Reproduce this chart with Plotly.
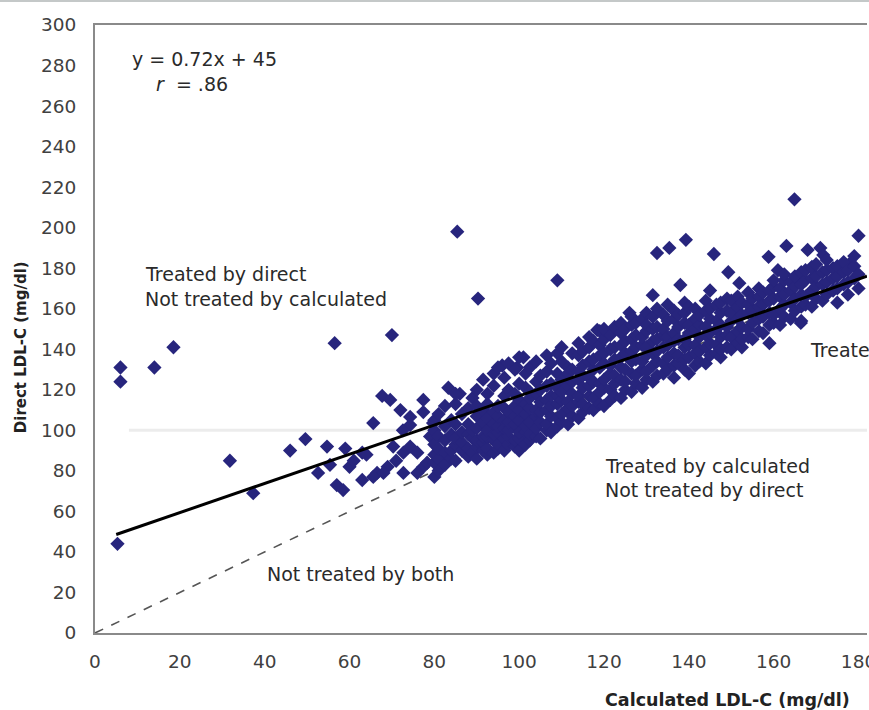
import plotly.graph_objects as go

# ---- data ----
slope = 0.72
intercept = 45
fit_x = [5, 182]
identity_x = [0, 180]
threshold_y = 100

left_x = [6, 6, 14, 18.5, 5.3, 31.8, 37.3, 46, 49.6, 52.6, 54.7, 55.4, 57, 58.5, 59, 60,
          63, 63, 65.6, 56.5, 70, 67.7, 69.6, 72, 77.4, 77.4, 83.3, 86, 74.3, 66.5, 69,
          71, 72.7, 70.3, 74.3, 76, 77.4, 76, 79, 72.6, 74.3, 79.7, 68, 65.6, 72.7, 78.3,
          64, 61]
left_y = [131, 124, 131, 141, 44, 85, 69, 90, 95.7, 79, 92, 83, 73, 70.5, 91, 82,
          75.5, 89, 103.6, 143, 147, 117, 115, 110, 115, 109, 121, 118, 102.6, 79, 82,
          85, 89, 92, 92, 89, 82, 79, 97, 100, 106.6, 103.6, 79, 77, 79, 84,
          88, 85]

outlier_x = [85.4, 90.3, 109, 132.5, 135.4, 139.3, 145.9, 149.3, 151.9, 131.5, 126, 138,
             145, 164.9, 158.8, 163, 168, 171, 171.7, 180, 161, 169, 165.8, 178, 166.4,
             118.4, 96, 99.5, 101]
outlier_y = [198, 165, 174, 187.5, 190, 194, 187, 178, 172.6, 166.7, 158, 171.7,
             169, 214, 185.6, 191, 189, 190, 186.5, 196, 179, 180.7, 176, 182.5, 153,
             149.5, 132, 131, 136]

band_x = [80, 81, 82.5, 84, 85, 86.5, 88, 89, 90, 91.5, 92.5, 94, 95, 96.5, 97.5, 99,
          100, 101.5, 102.5, 104, 105, 106.5, 107.5, 109, 110, 111.5, 112.5, 114, 115,
          116.5, 117.5, 119, 120, 121.5, 122.5, 124, 125, 126.5, 127.5, 129, 130, 131.5,
          132.5, 134, 135, 136.5, 137.5, 139, 140, 141.5, 142.5, 144, 145, 146.5, 147.5,
          149, 150, 151.5, 152.5, 154, 155, 156.5, 157.5, 159, 160, 161.5, 162.5, 164,
          165, 166.5, 167.5, 169, 170, 171.5, 172.5, 174, 175, 176.5, 177.5, 179, 180]
band_y = [
    [77, 84, 88, 93, 100, 105],
    [80, 86, 91, 97, 108],
    [83, 89, 95, 102, 112],
    [86, 90, 98, 105],
    [85, 93, 96, 103, 113, 118],
    [90, 94, 99, 108],
    [87, 91, 98, 103, 111],
    [89, 96, 100, 116],
    [86, 92, 95, 101, 107, 112, 120],
    [90, 94, 97, 104, 110, 125],
    [88, 91, 97, 100, 106, 113, 118],
    [89, 95, 98, 103, 109, 122, 128],
    [91, 93, 99, 102, 107, 112, 131],
    [90, 96, 101, 105, 111, 117, 126],
    [93, 97, 100, 104, 109, 120, 133],
    [92, 95, 103, 107, 112, 118, 130],
    [90, 96, 99, 105, 110, 115, 123, 136],
    [93, 99, 102, 108, 113, 121, 128],
    [95, 98, 104, 111, 116, 119, 131],
    [97, 101, 107, 110, 118, 124, 134],
    [96, 104, 109, 114, 120, 127],
    [100, 103, 110, 115, 122, 129, 137],
    [99, 107, 112, 117, 123, 133],
    [102, 106, 113, 117, 121, 128, 138],
    [104, 108, 115, 119, 125, 134, 141],
    [103, 111, 114, 122, 128, 131],
    [107, 112, 118, 124, 130, 138],
    [106, 114, 117, 125, 129, 137, 143],
    [109, 113, 121, 127, 132, 139],
    [111, 117, 122, 126, 134, 141, 146],
    [110, 116, 124, 130, 135, 144],
    [113, 119, 123, 131, 137, 142, 149],
    [112, 121, 125, 133, 138, 145, 150],
    [115, 120, 128, 132, 140, 147],
    [117, 123, 127, 135, 141, 151],
    [116, 125, 131, 136, 142, 148, 153],
    [120, 124, 130, 138, 144, 150],
    [119, 128, 134, 139, 145, 152, 156],
    [123, 127, 135, 141, 147, 153],
    [121, 130, 134, 142, 146, 155],
    [125, 129, 137, 141, 149, 152, 158],
    [124, 132, 138, 144, 150, 156],
    [127, 134, 139, 145, 151, 160],
    [128, 133, 141, 147, 150, 157],
    [130, 136, 142, 146, 154, 162],
    [126, 132, 138, 144, 148, 155, 159],
    [133, 137, 145, 151, 157],
    [130, 135, 141, 145, 153, 158, 163],
    [128, 136, 142, 148, 152, 161],
    [132, 138, 142, 150, 155, 160],
    [134, 139, 146, 152, 157],
    [133, 141, 147, 151, 159, 164],
    [137, 143, 148, 155, 160],
    [138, 142, 150, 154, 162],
    [136, 140, 146, 152, 158, 163],
    [141, 147, 151, 159, 165],
    [140, 146, 154, 158, 164],
    [143, 149, 155, 161, 166],
    [141, 145, 151, 157, 163],
    [146, 150, 158, 162, 168],
    [145, 153, 159, 165],
    [149, 155, 161, 166, 170],
    [148, 156, 162, 168],
    [143, 152, 158, 164, 169],
    [153, 157, 165, 171, 174],
    [152, 160, 166, 170],
    [156, 162, 167, 174, 177],
    [155, 163, 169, 173],
    [159, 165, 171, 176],
    [154, 161, 167, 172, 178],
    [162, 166, 174, 179],
    [161, 169, 175, 180],
    [165, 171, 176, 182],
    [164, 172, 178],
    [167, 173, 179, 184],
    [169, 175, 180],
    [163, 170, 176, 181],
    [172, 178, 183],
    [167, 173, 179],
    [175, 181, 186],
    [170, 177],
]

x_ticks = [0, 20, 40, 60, 80, 100, 120, 140, 160, 180]
y_ticks = [0, 20, 40, 60, 80, 100, 120, 140, 160, 180, 200, 220, 240, 260, 280, 300]

# ---- assemble ----
pts_x = list(left_x) + list(outlier_x)
pts_y = list(left_y) + list(outlier_y)
for bx, ys in zip(band_x, band_y):
    for v in ys:
        pts_x.append(bx)
        pts_y.append(v)

FONT = "DejaVu Sans"
fig = go.Figure()

# dashed identity line
fig.add_trace(go.Scatter(x=identity_x, y=identity_x, mode="lines",
                         line=dict(color="#555555", width=1.6, dash="dash"),
                         hoverinfo="skip", showlegend=False))
# points
fig.add_trace(go.Scatter(x=pts_x, y=pts_y, mode="markers",
                         marker=dict(symbol="diamond", size=11, color="#27257d",
                                     line=dict(width=0)),
                         showlegend=False))
# regression line
fig.add_trace(go.Scatter(x=fit_x, y=[slope * v + intercept for v in fit_x], mode="lines",
                         line=dict(color="#000000", width=3),
                         hoverinfo="skip", showlegend=False))

# faint threshold line
fig.add_shape(type="line", xref="x", yref="y", x0=8, x1=182, y0=threshold_y, y1=threshold_y,
              line=dict(color="#ececec", width=3), layer="below")
# thin grey border at very top of picture
fig.add_shape(type="line", xref="paper", yref="paper", x0=-0.2, x1=1.1, y0=1.0395, y1=1.0395,
              line=dict(color="#c4c8c8", width=2))

ann_font = dict(family=FONT, size=19, color="#2a2a2a")
def note(x, y, text):
    fig.add_annotation(x=x, y=y, xref="x", yref="y", text=text, showarrow=False,
                       xanchor="left", yanchor="middle", font=ann_font)

note(8.2, 283, "y = 0.72x + 45")
note(14, 271, "<i>r</i>  = .86")
note(11.2, 177, "Treated by direct")
note(11.2, 165, "Not treated by calculated")
note(119.8, 82.4, "Treated by calculated")
note(119.8, 70.5, "Not treated by direct")
note(40, 29, "Not treated by both")
note(168.2, 139.6, "Treated by both")

# axis titles (placed as in the reference: x title right-aligned)
fig.add_annotation(xref="paper", yref="paper", x=0.9806, y=-0.110, xanchor="right",
                   yanchor="middle", showarrow=False, text="<b>Calculated LDL-C (mg/dl)</b>",
                   font=dict(family=FONT, size=17.5, color="#222222"))
fig.add_annotation(xref="paper", yref="paper", x=-0.0959, y=0.470, xanchor="center",
                   yanchor="middle", showarrow=False, textangle=-90,
                   text="<b>Direct LDL-C (mg/dl)</b>",
                   font=dict(family=FONT, size=15, color="#222222"))

fig.update_layout(
    width=869, height=710,
    margin=dict(l=95, r=2, t=25, b=77, autoexpand=False),
    paper_bgcolor="white", plot_bgcolor="white",
    font=dict(family=FONT, size=18, color="#404040"),
    xaxis=dict(range=[0, 182], tickvals=x_ticks, showgrid=False, zeroline=False,
               showline=True, linecolor="#8a8a8a", linewidth=2, mirror=True,
               ticks="", ticklabelstandoff=11, ticklabeloverflow="allow", automargin=False,
               tickfont=dict(family=FONT, size=18.5, color="#404040")),
    yaxis=dict(range=[0, 300], tickvals=y_ticks, showgrid=False, zeroline=False,
               showline=True, linecolor="#8a8a8a", linewidth=2, mirror=False,
               ticks="", ticklabelstandoff=13, automargin=False,
               tickfont=dict(family=FONT, size=18.5, color="#404040")),
)

fig.write_html("out.html", config={"displayModeBar": False},
               post_script="document.body.style.margin='0';")
